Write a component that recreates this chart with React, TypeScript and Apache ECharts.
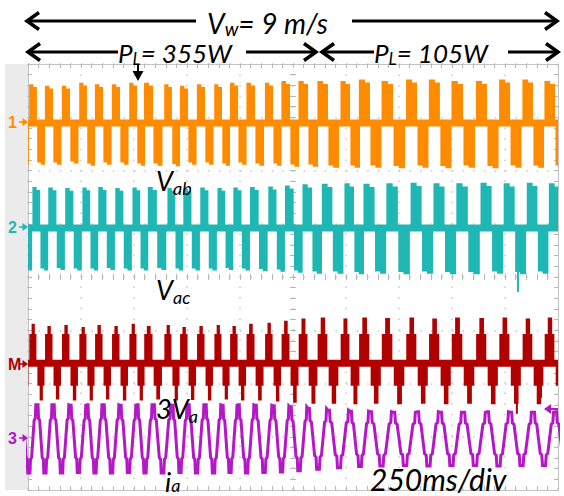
import React, { useEffect, useRef } from "react";
import * as echarts from "echarts";

// time axis: 250 ms/div, 10 divisions
const timeMin = 0;
const timeMax = 2500;
const timeStep = 250;
// times of each ia peak (ms)
const peakTimes = [42, 118, 198, 278, 354, 434, 514, 590, 679, 755, 835, 915, 991, 1071, 1156, 1236, 1321, 1415, 1519, 1613, 1722, 1835, 1943, 2052, 2165, 2274, 2382, 2486];
// channel zero levels (div from bottom)
const ch1Zero = 6.89;
const ch2Zero = 4.92;
const chMZero = 2.38;
const ch3Zero = 0.96;
// Vab block heights above / below zero (div)
const vabHigh = [0.73, 0.7, 0.7, 0.76, 0.73, 0.73, 0.76, 0.76, 0.73, 0.7, 0.73, 0.73, 0.76, 0.76, 0.76, 0.79, 0.79, 0.79, 0.79, 0.82, 0.79, 0.82, 0.82, 0.79, 0.79, 0.82, 0.82, 0.79];
const vabLow = [0.78, 0.78, 0.76, 0.8, 0.78, 0.78, 0.8, 0.8, 0.81, 0.78, 0.78, 0.8, 0.78, 0.8, 0.8, 0.82, 0.82, 0.84, 0.84, 0.84, 0.85, 0.84, 0.85, 0.84, 0.85, 0.84, 0.84, 0.84];
// Vac block heights
const vacHigh = [0.77, 0.76, 0.75, 0.76, 0.77, 0.75, 0.76, 0.77, 0.75, 0.74, 0.76, 0.75, 0.76, 0.77, 0.78, 0.8, 0.82, 0.83, 0.84, 0.83, 0.84, 0.85, 0.84, 0.84, 0.85, 0.84, 0.85, 0.84];
const vacLow = [0.8, 0.79, 0.8, 0.8, 0.79, 0.8, 0.8, 0.79, 0.8, 0.8, 0.8, 0.79, 0.8, 0.81, 0.82, 0.84, 0.86, 0.86, 0.87, 0.86, 0.87, 0.86, 0.87, 0.87, 0.86, 0.87, 0.86, 0.86];
// 3Va peak levels
const va3High = [0.74, 0.7, 0.72, 0.68, 0.72, 0.7, 0.74, 0.7, 0.72, 0.68, 0.7, 0.72, 0.7, 0.74, 0.76, 0.8, 0.84, 0.86, 0.84, 0.86, 0.85, 0.86, 0.84, 0.86, 0.85, 0.86, 0.84, 0.86];
const va3Low = [0.7, 0.68, 0.7, 0.7, 0.68, 0.7, 0.7, 0.68, 0.7, 0.69, 0.7, 0.68, 0.7, 0.7, 0.72, 0.74, 0.76, 0.76, 0.77, 0.76, 0.77, 0.76, 0.77, 0.76, 0.77, 0.76, 0.77, 0.76];
const va3ShoulderHigh = 0.55;
const va3ShoulderLow = 0.42;
// 3Va staircase in one cycle: edges (fraction of period from peak) and step per segment
const va3Edges = [-0.47, -0.33, -0.13, -0.03, 0.03, 0.17, 0.37, 0.47, 0.53];
const va3Steps = [1, 2, 1, 0, -1, -2, -1, 0];
// ia amplitude per cycle (div)
const iaAmp = [0.64, 0.64, 0.63, 0.64, 0.64, 0.63, 0.64, 0.64, 0.63, 0.64, 0.64, 0.63, 0.64, 0.63, 0.62, 0.6, 0.57, 0.54, 0.52, 0.51, 0.5, 0.51, 0.5, 0.5, 0.51, 0.5, 0.5, 0.51];
// ia staircase over one cycle, peak to peak
const iaPhase = [0, 0.07, 0.1, 0.17, 0.25, 0.33, 0.4, 0.43, 0.57, 0.6, 0.67, 0.75, 0.83, 0.9, 0.93];
const iaLevel = [1, 1, 0.6, 0.55, 0, -0.55, -0.6, -1, -1, -0.6, -0.55, 0, 0.55, 0.6, 1];
// glitch spikes: time (ms), channel, reach (div from zero)
const glitchTime = [2311, 2306, 2420];
const glitchChannel = ["ac", "m", "m"];
const glitchReach = [-1.2, -0.95, -0.65];

const ORANGE = "#FF8C00";
const TEAL = "#1FB7B3";
const RED = "#B00000";
const MAGENTA = "#B418C6";

function periodAt(k: number) {
  const n = peakTimes.length;
  return k < n - 1 ? peakTimes[k + 1] - peakTimes[k] : peakTimes[k] - peakTimes[k - 1];
}

function blockSeries(color: string, zero: number, hi: number[], lo: number[], a: number, w: number) {
  return {
    type: "custom",
    xAxisIndex: 0,
    yAxisIndex: 0,
    clip: true,
    silent: true,
    encode: { x: 0, y: 2 },
    data: peakTimes.map((t, k) => [t, periodAt(k), hi[k], lo[k], k]),
    renderItem: (params: any, api: any) => {
      const t = api.value(0), P = api.value(1), h = api.value(2), l = api.value(3), k = api.value(4);
      const c = (tt: number, v: number) => api.coord([tt, zero + v]);
      const polys: any[] = [];
      const up = (s: number) => {
        const e = s + w * P, m = s + 0.55 * w * P;
        polys.push([c(s, 0), c(s, h), c(m, h), c(m, h * 0.93), c(e, h * 0.93), c(e, 0)]);
      };
      const dn = (s: number) => {
        const e = s + w * P, m = s + 0.45 * w * P;
        polys.push([c(s, 0), c(s, -l * 0.95), c(m, -l * 0.95), c(m, -l), c(e, -l), c(e, 0)]);
      };
      const s = t + a * P;
      up(s);
      dn(s + 0.5 * P);
      if (k === 0) dn(s - 0.5 * P);
      return {
        type: "group",
        children: polys.map((points) => ({ type: "polygon", shape: { points }, style: { fill: color } })),
      };
    },
  };
}

function va3Series() {
  return {
    type: "custom",
    xAxisIndex: 0,
    yAxisIndex: 0,
    clip: true,
    silent: true,
    encode: { x: 0, y: 2 },
    data: peakTimes.map((t, k) => [t, periodAt(k), va3High[k], va3Low[k], k]),
    renderItem: (params: any, api: any) => {
      const t = api.value(0), P = api.value(1), h = api.value(2), l = api.value(3), k = api.value(4);
      const lev = (s: number) => (s === 2 ? h : s === 1 ? va3ShoulderHigh : s === -1 ? -va3ShoulderLow : s === -2 ? -l : 0);
      const make = (t0: number) => {
        const pts: any[] = [api.coord([t0 + va3Edges[0] * P, chMZero])];
        for (let i = 0; i < va3Steps.length; i++) {
          const v = chMZero + lev(va3Steps[i]);
          pts.push(api.coord([t0 + va3Edges[i] * P, v]));
          pts.push(api.coord([t0 + va3Edges[i + 1] * P, v]));
        }
        pts.push(api.coord([t0 + va3Edges[va3Edges.length - 1] * P, chMZero]));
        return { type: "polygon", shape: { points: pts }, style: { fill: RED } };
      };
      const children = [make(t)];
      if (k === 0) children.push(make(t - P));
      return { type: "group", children };
    },
  };
}

function iaData() {
  const pts: number[][] = [];
  const n = peakTimes.length;
  const P0 = periodAt(0);
  for (let j = 0; j < iaPhase.length; j++) pts.push([peakTimes[0] - P0 + iaPhase[j] * P0, ch3Zero + iaAmp[0] * iaLevel[j]]);
  for (let k = 0; k < n; k++) {
    const P = periodAt(k);
    for (let j = 0; j < iaPhase.length; j++) pts.push([peakTimes[k] + iaPhase[j] * P, ch3Zero + iaAmp[k] * iaLevel[j]]);
  }
  return pts;
}

function zeroBand(color: string, zero: number, width: number) {
  return {
    type: "line",
    xAxisIndex: 0,
    yAxisIndex: 0,
    data: [[timeMin, zero], [timeMax, zero]],
    showSymbol: false,
    symbol: "none",
    silent: true,
    lineStyle: { color, width },
  };
}

function glitchSeries() {
  const zeroOf: any = { ab: ch1Zero, ac: ch2Zero, m: chMZero };
  const colorOf: any = { ab: ORANGE, ac: TEAL, m: RED };
  return {
    type: "custom",
    xAxisIndex: 0,
    yAxisIndex: 0,
    clip: true,
    silent: true,
    encode: { x: 0, y: 1 },
    data: glitchTime.map((t, i) => [t, glitchReach[i], i]),
    renderItem: (params: any, api: any) => {
      const i = api.value(2);
      const ch = glitchChannel[i];
      const z = zeroOf[ch];
      const p1 = api.coord([api.value(0), z]);
      const p2 = api.coord([api.value(0), z + api.value(1)]);
      return { type: "line", shape: { x1: p1[0], y1: p1[1], x2: p2[0], y2: p2[1] }, style: { stroke: colorOf[ch], lineWidth: 2 } };
    },
  };
}

const GRID = { left: 28, top: 64, width: 530, height: 426 };
const BORDER = "#c4c4c4";
const TICK = "#b8b8b8";
const DOT = "#c8c8c8";

function borderAxis(pos: string, isX: boolean, withSplit: boolean) {
  return {
    gridIndex: 0,
    type: "value",
    position: pos,
    min: isX ? timeMin : 0,
    max: isX ? timeMax : 8,
    interval: isX ? timeStep : 1,
    axisLine: { show: true, onZero: false, lineStyle: { color: BORDER, width: 1 } },
    axisTick: { show: true, inside: true, length: 4, lineStyle: { color: TICK } },
    minorTick: { show: true, splitNumber: 5, length: 4, lineStyle: { color: TICK } },
    axisLabel: { show: false },
    splitLine: { show: withSplit, lineStyle: { color: DOT, width: 1.5, type: [1.5, 9.1] } },
  };
}

function centerAxis(grid: number, isX: boolean, inside: boolean) {
  return {
    gridIndex: grid,
    type: "value",
    min: isX ? -5 : -4,
    max: isX ? 5 : 4,
    interval: 1,
    axisLine: { show: false, onZero: true },
    axisTick: { show: true, inside, length: 3, lineStyle: { color: TICK } },
    minorTick: { show: true, splitNumber: 5, length: 3, lineStyle: { color: TICK } },
    axisLabel: { show: false },
    splitLine: { show: false },
  };
}

const FAMILY = "Lato, 'Open Sans', sans-serif";

// label with a subscript, as one rich text
function subLabel(main: string, sub: string, rest: string, x: number, y: number, size: number, subSize: number, lh: number) {
  return {
    type: "text",
    x,
    y,
    z: 100,
    style: {
      text: `{m|${main}}{s|${sub}}` + (rest ? `{m|${rest}}` : ""),
      fill: "#000",
      font: `italic ${size}px ${FAMILY}`,
      align: "left",
      verticalAlign: "middle",
      rich: {
        m: { fontSize: size, fontStyle: "italic", fontFamily: FAMILY, lineHeight: lh, verticalAlign: "middle", fill: "#000", color: "#000" },
        s: { fontSize: subSize, fontStyle: "italic", fontFamily: FAMILY, lineHeight: subSize, verticalAlign: "bottom", fill: "#000", color: "#000" },
      },
    },
  };
}

function txt(text: string, x: number, y: number, size: number, extra: any = {}) {
  return {
    type: "text",
    x,
    y,
    z: 100,
    style: {
      text,
      fill: extra.fill || "#000",
      font: `${extra.weight || "italic"} ${size}px ${extra.family || FAMILY}`,
      align: "left",
      verticalAlign: "middle",
    },
  };
}

function hline(x1: number, x2: number, y: number) {
  return { type: "line", z: 100, shape: { x1, y1: y, x2, y2: y }, style: { stroke: "#000", lineWidth: 3 } };
}

function chevron(x: number, y: number, dir: number) {
  return {
    type: "polyline",
    z: 100,
    shape: { points: [[x + dir * 12, y - 8.5], [x, y], [x + dir * 12, y + 8.5]] },
    style: { stroke: "#000", lineWidth: 3.5, fill: null },
  };
}

function chMarker(label: string, y: number, color: string) {
  return [
    txt(label, 8, y, 16, { weight: "bold", family: "'Liberation Sans', Arial, sans-serif", fill: color }),
    { type: "line", z: 100, shape: { x1: 19, y1: y, x2: 25, y2: y }, style: { stroke: color, lineWidth: 1.5 } },
    { type: "polygon", z: 100, shape: { points: [[22.5, y - 4], [28, y], [22.5, y + 4]] }, style: { fill: color } },
  ];
}

function buildGraphics() {
  return [
    { type: "rect", z: -10, shape: { x: 5, y: 64, width: 23, height: 426 }, style: { fill: "#ebebeb" } },
    // top arrow V_w
    hline(28, 196, 21),
    hline(352, 556, 21),
    chevron(27, 21, 1),
    chevron(557, 21, -1),
    subLabel("V", "w", "= 9 m/s", 207, 23, 28, 19, 30),
    // second row P_L
    hline(29, 118, 52),
    hline(246, 315, 52),
    chevron(28, 52, 1),
    chevron(316, 52, -1),
    subLabel("P", "L", "= 355W", 118, 53, 26, 17, 28),
    hline(323, 374, 52),
    hline(508, 557, 52),
    chevron(322, 52, 1),
    chevron(558, 52, -1),
    subLabel("P", "L", "= 105W", 374, 53, 26, 17, 28),
    // down arrow marker
    { type: "line", z: 100, shape: { x1: 138, y1: 64, x2: 138, y2: 74 }, style: { stroke: "#000", lineWidth: 2 } },
    { type: "polygon", z: 100, shape: { points: [[132.5, 71], [143.5, 71], [138, 81]] }, style: { fill: "#000" } },
    // trace labels
    subLabel("V", "ab", "", 156, 180, 27, 18, 34),
    subLabel("V", "ac", "", 156, 289, 27, 18, 34),
    subLabel("3V", "a", "", 156, 408, 27, 18, 34),
    subLabel("i", "a", "", 165, 481, 27, 18, 26),
    txt("250ms/div", 370, 479, 30),
    // channel markers
    ...chMarker("1", 122, ORANGE),
    ...chMarker("2", 227, TEAL),
    ...chMarker("M", 364, RED),
    ...chMarker("3", 438, MAGENTA),
    // trigger marker on right
    { type: "line", z: 100, shape: { x1: 549, y1: 409, x2: 558, y2: 409 }, style: { stroke: MAGENTA, lineWidth: 2 } },
    { type: "polygon", z: 100, shape: { points: [[544, 409], [551, 404], [551, 414]] }, style: { fill: MAGENTA } },
  ];
}

export default function App() {
  const ref = useRef<HTMLDivElement>(null);
  useEffect(() => {
    document.body.style.margin = "0";
    const chart = echarts.init(ref.current!, null, { renderer: "svg" });
    chart.setOption({
      animation: false,
      backgroundColor: "#ffffff",
      grid: [GRID, GRID, GRID].map((g) => ({ ...g, containLabel: false })),
      xAxis: [
        borderAxis("bottom", true, true),
        borderAxis("top", true, false),
        centerAxis(1, true, true),
        centerAxis(2, true, false),
      ],
      yAxis: [
        borderAxis("left", false, true),
        borderAxis("right", false, false),
        centerAxis(1, false, true),
        centerAxis(2, false, false),
      ],
      series: [
        zeroBand(ORANGE, ch1Zero, 7),
        blockSeries(ORANGE, ch1Zero, vabHigh, vabLow, -0.48, 0.48),
        zeroBand(TEAL, ch2Zero, 7),
        blockSeries(TEAL, ch2Zero, vacHigh, vacLow, -0.28, 0.48),
        zeroBand(RED, chMZero, 7),
        va3Series(),
        glitchSeries(),
        {
          type: "line",
          xAxisIndex: 0,
          yAxisIndex: 0,
          data: iaData(),
          showSymbol: false,
          symbol: "none",
          silent: true,
          clip: true,
          lineStyle: { color: MAGENTA, width: 3, join: "miter" },
        },
      ],
      graphic: buildGraphics(),
    });
    return () => chart.dispose();
  }, []);
  return <div ref={ref} style={{ width: 564, height: 496 }} />;
}
